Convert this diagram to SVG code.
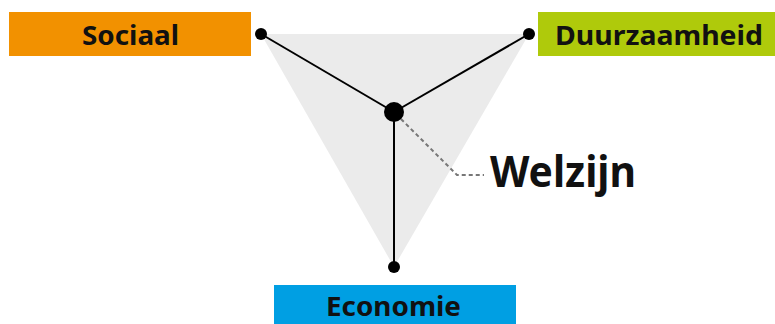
<svg xmlns="http://www.w3.org/2000/svg" width="775" height="324" viewBox="0 0 775 324">
<style>
.lbl{font-family:"Noto Sans","Liberation Sans",sans-serif;font-weight:bold;fill:#111}
.edge{stroke:#000;stroke-width:2;fill:none}
.dot{fill:#000}
</style>
<rect width="775" height="324" fill="#fff"/>
<polygon points="261,34 529,34 394,267" fill="#EBEBEB"/>
<g id="connectors">
<line class="edge" x1="261" y1="34" x2="394" y2="112"/>
<line class="edge" x1="529" y1="34" x2="394" y2="112"/>
<line class="edge" x1="394" y1="112" x2="394" y2="267"/>
<polyline points="396,114 457,175 484,175" fill="none" stroke="#777" stroke-width="2" stroke-dasharray="4,3"/>
</g>
<g id="sociaal">
<rect x="9" y="12" width="242" height="44" fill="#F29100"/>
<text class="lbl" x="82" y="45" font-size="27" textLength="97" lengthAdjust="spacingAndGlyphs">Sociaal</text>
<circle class="dot" cx="261" cy="34" r="6"/>
</g>
<g id="duurzaamheid">
<rect x="538" y="12" width="237" height="44" fill="#AFCA0B"/>
<text class="lbl" x="555" y="45" font-size="27" textLength="208" lengthAdjust="spacingAndGlyphs">Duurzaamheid</text>
<circle class="dot" cx="529" cy="34" r="6"/>
</g>
<g id="economie">
<rect x="274" y="285" width="242" height="39" fill="#009FE3"/>
<text class="lbl" x="326" y="316" font-size="26" textLength="135" lengthAdjust="spacingAndGlyphs">Economie</text>
<circle class="dot" cx="394" cy="267" r="6"/>
</g>
<g id="welzijn">
<circle class="dot" cx="394" cy="112" r="10"/>
<text class="lbl" x="490" y="187" font-size="43" textLength="146" lengthAdjust="spacingAndGlyphs">Welzijn</text>
</g>
</svg>
